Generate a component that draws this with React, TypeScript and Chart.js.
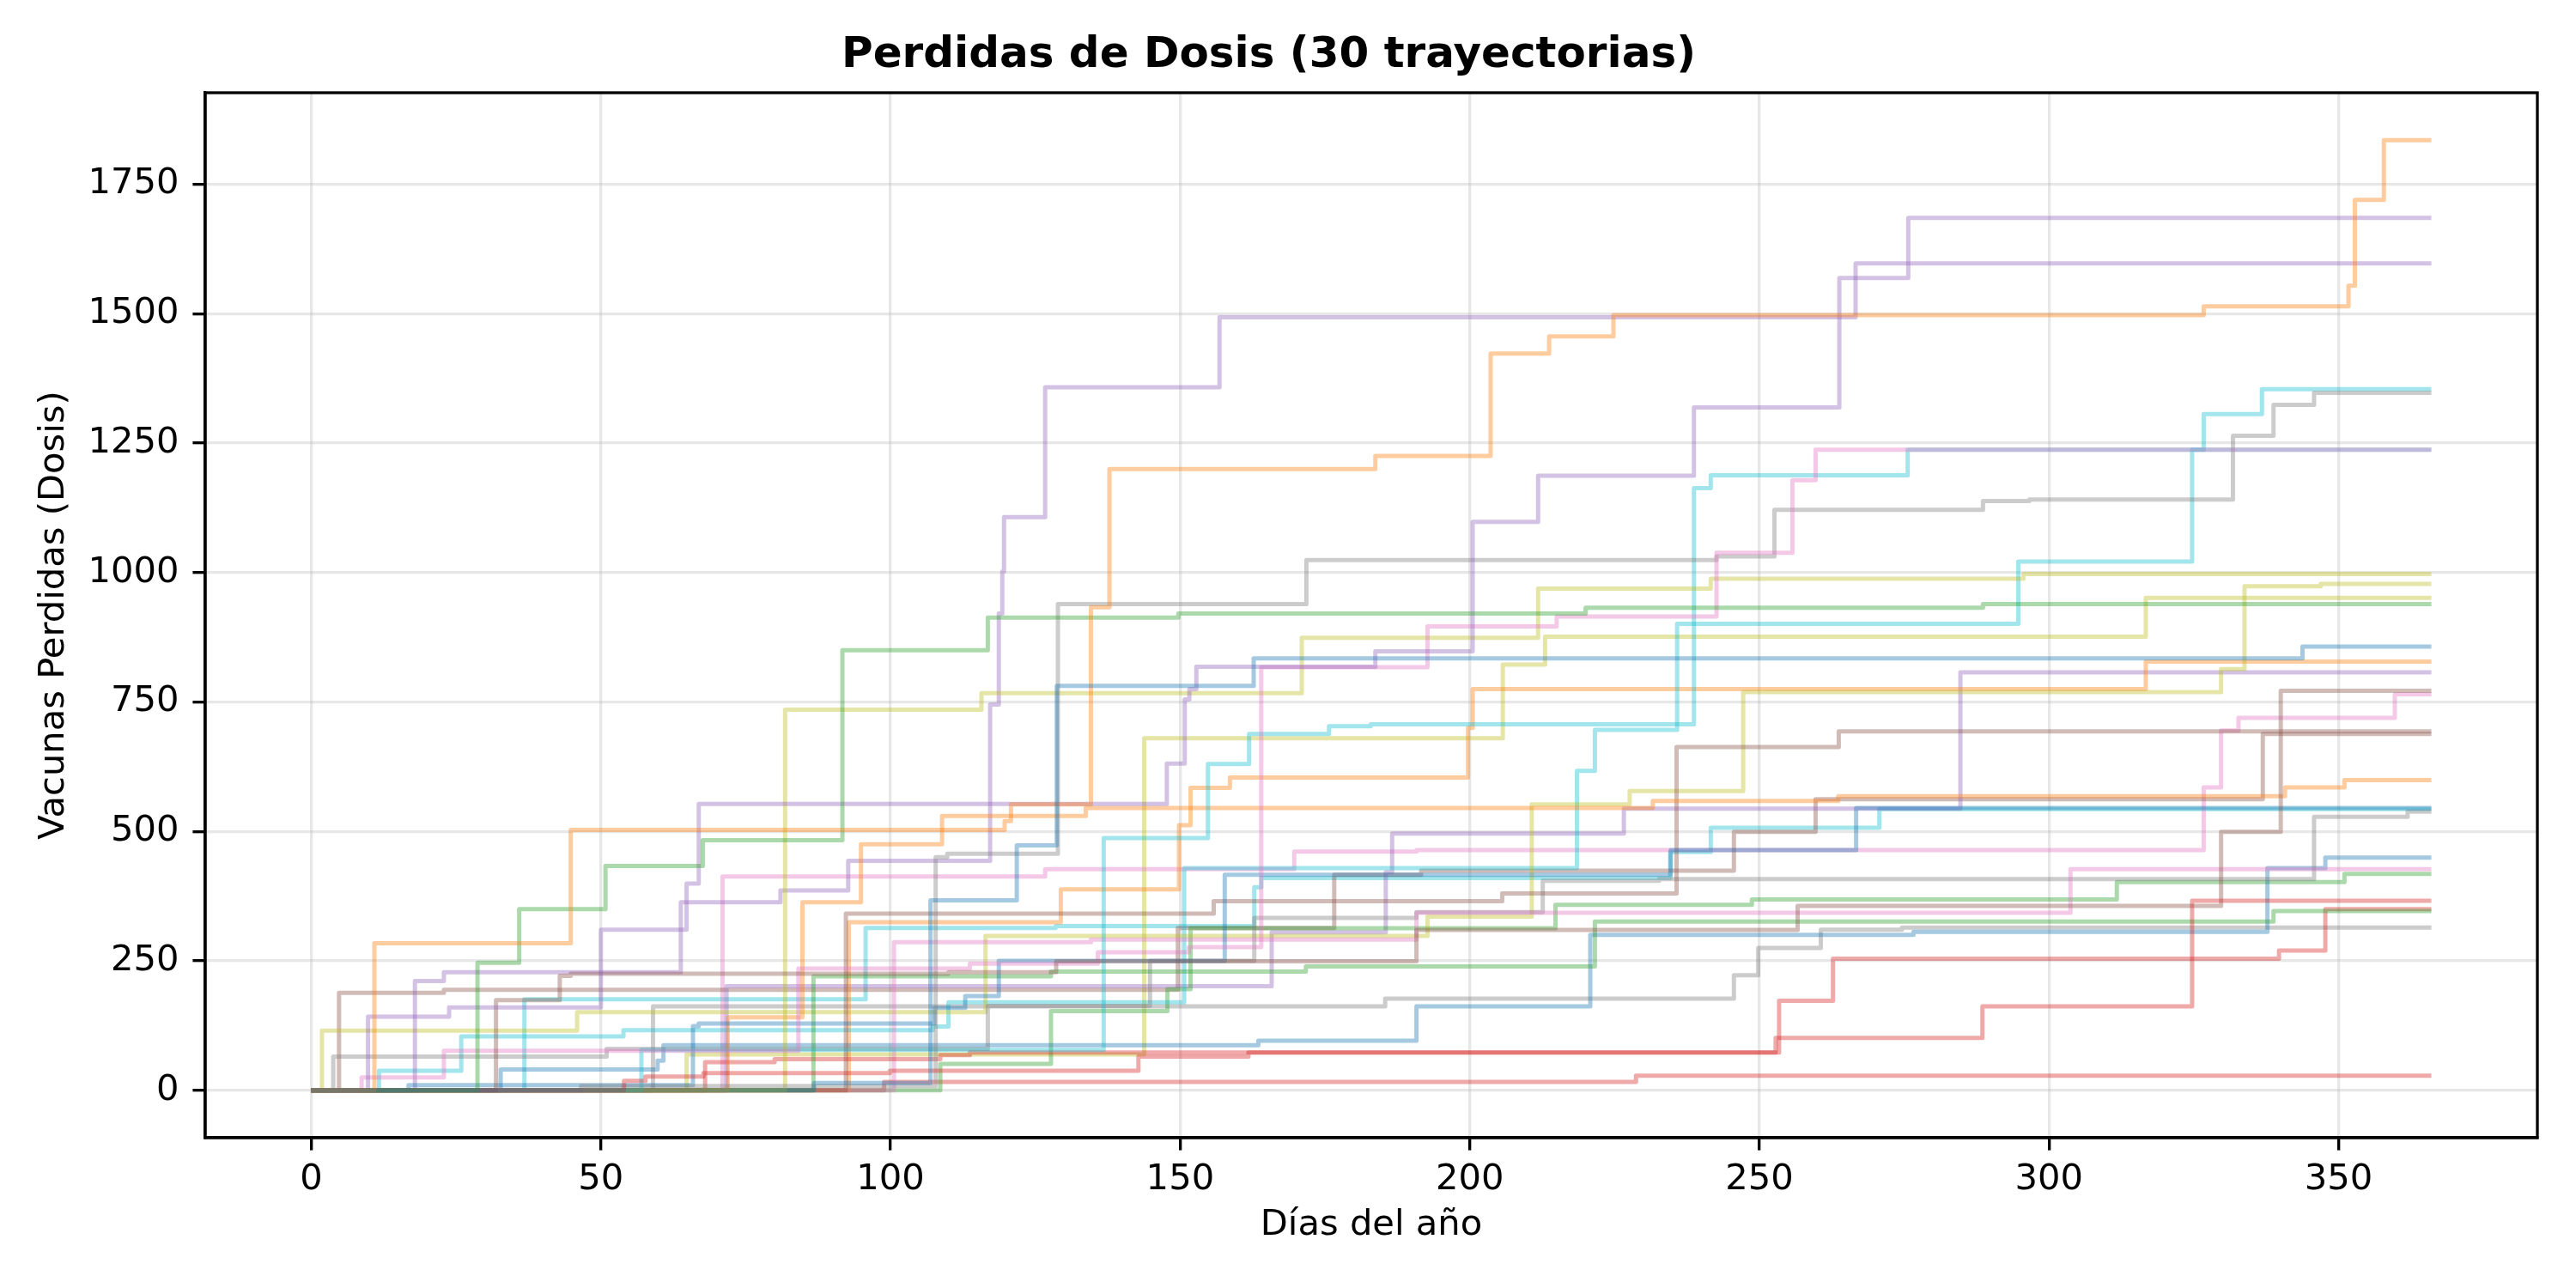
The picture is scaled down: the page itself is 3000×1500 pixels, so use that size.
import React, { useEffect, useRef } from "react";
import { Chart, registerables } from "chart.js";

Chart.register(...registerables);

// ---- axis ticks ----
const xTicks = [0, 50, 100, 150, 200, 250, 300, 350];
const xTickLabels = ["0", "50", "100", "150", "200", "250", "300", "350"];
const yTicks = [0, 250, 500, 750, 1000, 1250, 1500, 1750];
const yTickLabels = ["0", "250", "500", "750", "1000", "1250", "1500", "1750"];
const xRange = [-18.3, 384.3];
const yRange = [-91.75, 1926.75];
const lastDay = 366;

const titleText = "Perdidas de Dosis (30 trayectorias)";
const xTitle = "Días del año";
const yTitle = "Vacunas Perdidas (Dosis)";

// tab10 palette
const palette = [
  [31, 119, 180], [255, 127, 14], [44, 160, 44], [214, 39, 40], [148, 103, 189],
  [140, 86, 75], [227, 119, 194], [127, 127, 127], [188, 189, 34], [23, 190, 207],
];

// ---- trajectories: [day, cumulative doses lost] (step changes) ----
const traj01 = [[0, 0], [86.8, 14], [106.9, 367], [121.8, 473], [128.7, 781], [162.7, 834], [343.75, 857]];
const traj02 = [[0, 0], [10.9, 284], [44.8, 503], [119.7, 520], [120.8, 552], [134.6, 933], [137.8, 1200], [183.7, 1225], [203.6, 1423], [213.7, 1456], [224.8, 1497], [326.7, 1514], [351.7, 1554], [352.8, 1720], [357.8, 1835]];
const traj03 = [[0, 0], [28.7, 246], [35.9, 350], [50.8, 433], [67.6, 483], [91.7, 850], [116.8, 913], [149.7, 921], [220, 932], [288.6, 939]];
const traj04 = [[0, 0], [54, 18], [57.7, 26.5], [67.7, 33], [99.9, 37.5], [142.8, 65], [161.8, 73], [252.8, 101], [288.5, 162], [324.7, 366]];
const traj05 = [[0, 0], [9.8, 142], [23.8, 160], [50, 310], [64.8, 399], [66.9, 553], [147.7, 631], [150.8, 755], [151.6, 775], [152.8, 818], [183.7, 848], [200.5, 1098], [211.8, 1187], [238.7, 1319], [263.8, 1569], [275.7, 1685]];
const traj06 = [[0, 0], [31.9, 174], [42.9, 221], [44.8, 225], [110, 228], [128.6, 249], [190.8, 309.6], [256.6, 356], [329.7, 499], [340, 771.6]];
const traj07 = [[0, 0], [8.7, 24.8], [22.9, 76], [84.1, 235], [113.7, 244.5], [135.8, 266.6], [151.5, 276.5], [164, 817], [192.7, 896], [215, 915], [242.6, 1038], [255.7, 1178.5], [259.7, 1237]];
const traj08 = [[0, 0], [46.6, 8], [107.8, 450], [109.8, 457], [128.9, 939], [171.8, 1024], [242.6, 1031], [252.6, 1121], [288.6, 1138], [296.6, 1141], [331.75, 1264], [338.75, 1324], [345.75, 1347]];
const traj09 = [[0, 0], [81.8, 735], [115.7, 767], [171, 874], [211.8, 969], [241.6, 988], [295.6, 997]];
const traj10 = [[0, 0], [57, 78], [136.8, 487], [154.8, 630], [161.9, 688], [175.7, 703], [182.9, 707], [238.7, 1163], [241.6, 1188], [275.6, 1237], [326.7, 1306], [336.75, 1354]];
const traj11 = [[0, 0], [16.8, 10], [65.9, 124], [66.9, 129], [107.6, 159], [112.9, 182], [118.7, 250], [157.7, 416], [234.7, 464], [266.7, 545]];
const traj12 = [[0, 0], [71.9, 141], [84.8, 363], [94.9, 475], [108.9, 530], [133.7, 545], [231.6, 559], [263.6, 568], [340.75, 585], [351, 599]];
const traj13 = [[0, 0], [86.7, 220], [127.7, 229], [171.7, 239], [221.6, 326], [338.75, 346]];
const traj14 = [[0, 0], [68, 54], [80, 60], [108.6, 68], [113.7, 73], [253.4, 173], [262.7, 254], [339.7, 270], [347.7, 350]];
const traj15 = [[0, 0], [17.9, 211], [22.9, 228], [63.8, 363], [81, 386], [92.7, 443], [117.2, 745], [118.7, 921], [119.3, 1002], [119.6, 1107], [126.7, 1358], [156.8, 1493], [266.6, 1597]];
const traj16 = [[0, 0], [92.3, 341], [155.8, 365], [205.6, 380], [235.7, 663], [263.7, 693]];
const traj17 = [[0, 0], [100.6, 286], [134.6, 291], [190.8, 343], [303.7, 427]];
const traj18 = [[0, 0], [3.8, 65], [51, 80], [116.8, 163], [144.8, 250], [162.8, 333], [190.8, 344], [212.6, 404.5], [232.7, 408], [345.75, 528], [361.9, 538]];
const traj19 = [[0, 0], [1.85, 115], [45.9, 151], [116.4, 298], [192.7, 335.5], [210.7, 552], [227.6, 578], [247.2, 769], [329.7, 813.5], [333.75, 973.6], [346.9, 978]];
const traj20 = [[0, 0], [11.7, 37.5], [25.9, 104], [53.9, 116], [107.3, 123], [110, 170], [150.7, 429], [218.5, 617], [221.6, 696], [235.8, 901], [294.7, 1021], [324.7, 1237]];
const traj21 = [[0, 0], [32.7, 40], [59.8, 57], [60.8, 87], [163.5, 95.5], [190.8, 162], [220.8, 300], [276.6, 306], [337.7, 429], [347.7, 449.5]];
const traj22 = [[0, 0], [92.8, 324.5], [129.4, 388], [149.8, 512], [151.8, 584], [158.6, 604], [199.7, 700], [200.5, 775], [316.7, 828]];
const traj23 = [[0, 0], [108.6, 51], [127.7, 153], [147.8, 195], [151.8, 313], [214.8, 358], [248.7, 368.6], [311.7, 402], [351, 418]];
const traj24 = [[0, 0], [98.9, 16], [228.7, 28]];
const traj25 = [[0, 0], [71.7, 201], [165.8, 305], [185.5, 421], [186.6, 496], [226.6, 544], [284.7, 807]];
const traj26 = [[0, 0], [4.8, 188], [22.9, 194], [149.6, 313.5], [176.6, 416], [191.6, 424], [245.6, 499], [259.7, 562], [336.9, 688]];
const traj27 = [[0, 0], [71, 413], [126.7, 427], [169.7, 461], [190.8, 464], [326.7, 585], [329.7, 695], [332.7, 719.5], [359.7, 765]];
const traj28 = [[0, 0], [59, 162], [185.4, 177], [245.6, 222], [249.8, 275], [260.6, 310], [274.6, 314]];
const traj29 = [[0, 0], [64.8, 69], [143.8, 680], [205.7, 822], [213, 876], [316.7, 951]];
const traj30 = [[0, 0], [36.8, 175.5], [95.7, 313.5], [128.5, 317], [162.8, 392], [164, 410], [234.6, 460], [241.6, 507], [270.7, 543]];

const trajectories = [
  traj01, traj02, traj03, traj04, traj05, traj06, traj07, traj08, traj09, traj10,
  traj11, traj12, traj13, traj14, traj15, traj16, traj17, traj18, traj19, traj20,
  traj21, traj22, traj23, traj24, traj25, traj26, traj27, traj28, traj29, traj30,
];

const FONT = "'DejaVu Sans', 'Liberation Sans', sans-serif";
const PT = 300 / 72;

const framePlugin = {
  id: "frame",
  afterDraw(chart: any) {
    const { ctx, chartArea: a } = chart;
    ctx.save();
    ctx.strokeStyle = "#000";
    ctx.lineWidth = 0.8 * PT;
    ctx.strokeRect(a.left, a.top, a.right - a.left, a.bottom - a.top);
    ctx.restore();
  },
};

export default function App() {
  const ref = useRef<HTMLCanvasElement | null>(null);

  useEffect(() => {
    if (!ref.current) return;
    const datasets = trajectories.map((t, i) => {
      const c = palette[i % 10];
      const pts = t.map(([x, y]) => ({ x, y }));
      pts.push({ x: lastDay, y: t[t.length - 1][1] });
      return {
        data: pts,
        borderColor: `rgba(${c[0]},${c[1]},${c[2]},0.4)`,
        backgroundColor: `rgba(${c[0]},${c[1]},${c[2]},0.4)`,
        borderWidth: 1.2 * PT,
        pointRadius: 0,
        pointHoverRadius: 0,
        stepped: "before" as const,
        fill: false,
        tension: 0,
        borderJoinStyle: "round" as const,
        borderCapStyle: "butt" as const,
      };
    });

    const gridCommon = {
      color: "rgba(176,176,176,0.3)",
      lineWidth: 0.8 * PT,
      tickColor: "#000",
      tickWidth: 0.8 * PT,
      tickLength: 3.5 * PT,
      drawTicks: true,
    };

    const chart = new Chart(ref.current, {
      type: "line",
      data: { datasets },
      plugins: [framePlugin],
      options: {
        responsive: false,
        animation: false,
        devicePixelRatio: 1,
        events: [],
        layout: { padding: { top: 0, right: 45, bottom: 0, left: 0 } },
        plugins: {
          legend: { display: false },
          tooltip: { enabled: false },
          title: {
            display: true,
            text: titleText,
            color: "#000",
            font: { family: FONT, size: 12 * PT, weight: "bold", lineHeight: 1.2 },
            padding: { top: 35, bottom: 13 },
          },
        },
        scales: {
          x: {
            type: "linear",
            min: xRange[0],
            max: xRange[1],
            afterBuildTicks: (s: any) => {
              s.ticks = xTicks.map((v) => ({ value: v }));
            },
            afterFit: (s: any) => {
              s.height = 175;
            },
            ticks: {
              color: "#000",
              font: { family: FONT, size: 10 * PT },
              padding: 10,
              maxRotation: 0,
              autoSkip: false,
              callback: (v: any) => xTickLabels[xTicks.indexOf(Number(v))] ?? "",
            },
            grid: gridCommon,
            border: { display: true, color: "#000", width: 0.8 * PT },
            title: {
              display: true,
              text: xTitle,
              color: "#000",
              font: { family: FONT, size: 10 * PT, lineHeight: 1.2 },
              padding: { top: 0, bottom: 48 },
            },
          },
          y: {
            type: "linear",
            min: yRange[0],
            max: yRange[1],
            afterBuildTicks: (s: any) => {
              s.ticks = yTicks.map((v) => ({ value: v }));
            },
            afterFit: (s: any) => {
              s.width = 239;
            },
            ticks: {
              color: "#000",
              font: { family: FONT, size: 10 * PT },
              padding: 16,
              autoSkip: false,
              callback: (v: any) => yTickLabels[yTicks.indexOf(Number(v))] ?? "",
            },
            grid: gridCommon,
            border: { display: true, color: "#000", width: 0.8 * PT },
            title: {
              display: true,
              text: yTitle,
              color: "#000",
              font: { family: FONT, size: 10 * PT, lineHeight: 1.2 },
              padding: { top: 38, bottom: 0 },
            },
          },
        },
      } as any,
    });
    return () => chart.destroy();
  }, []);

  return (
    <div style={{ position: "fixed", left: 0, top: 0, width: 3000, height: 1500, background: "#fff" }}>
      <canvas ref={ref} width={3000} height={1500} style={{ width: 3000, height: 1500, display: "block" }} />
    </div>
  );
}
